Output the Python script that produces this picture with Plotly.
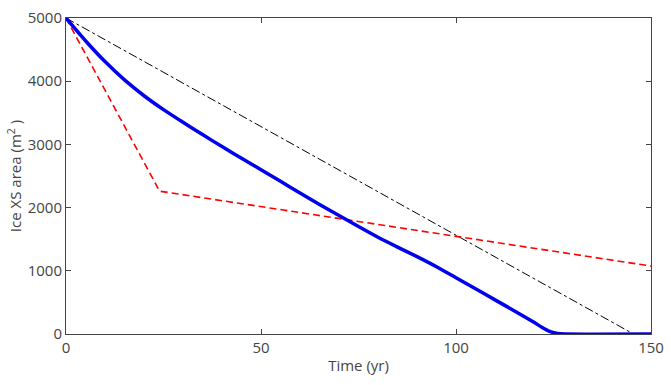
import plotly.graph_objects as go

# Blue: modelled ice cross-sectional area
t_model = [0, 5, 10, 15, 20, 25, 30, 35, 40, 45, 50, 55, 60, 65, 70, 75, 80, 85, 90,
           95, 100, 105, 110, 115, 120, 122, 124, 126, 128, 150]
a_model = [5000, 4640, 4310, 4020, 3770, 3550, 3350, 3155, 2965, 2780, 2600, 2415, 2230,
           2050, 1875, 1700, 1530, 1375, 1225, 1065, 890, 715, 540, 365, 185, 105, 40, 10, 0, 0]

# Red dashed
t_red = [0, 24, 150]
a_red = [5000, 2260, 1075]

# Black dash-dot
t_lin = [0, 145.5]
a_lin = [5000, 0]

fig = go.Figure()
fig.add_trace(go.Scatter(x=t_lin, y=a_lin, mode="lines",
                         line=dict(color="black", width=1, dash="dashdot")))
fig.add_trace(go.Scatter(x=t_red, y=a_red, mode="lines",
                         line=dict(color="#ff0000", width=1.6, dash="7px,4px")))
fig.add_trace(go.Scatter(x=t_model, y=a_model, mode="lines", line_shape="spline",
                         line=dict(color="#0000ee", width=3.5, smoothing=0.5)))

axis_common = dict(showgrid=False, zeroline=False, showline=True, linecolor="#444",
                   linewidth=1, mirror="ticks", ticks="inside", ticklen=5,
                   tickcolor="#444", tickfont=dict(size=15, color="#444"),
                   ticklabeloverflow="allow")
fig.update_layout(
    width=671, height=385,
    margin=dict(l=66, r=16, t=7, b=51),
    plot_bgcolor="white", paper_bgcolor="white",
    font=dict(family="Open Sans", size=15, color="#444"),
    showlegend=False,
    xaxis=dict(range=[0, 150], tickvals=[0, 50, 100, 150],
               title=dict(text="Time (yr)", standoff=4, font=dict(size=15)), **axis_common),
    yaxis=dict(range=[0, 5000], tickvals=[0, 1000, 2000, 3000, 4000, 5000],
               title=dict(text="Ice XS area (m<sup>2</sup> )", standoff=2, font=dict(size=15)),
               **axis_common),
)
fig.write_html("out.html", config={"displayModeBar": False},
               post_script="document.body.style.margin='0';document.body.style.overflow='hidden';")
